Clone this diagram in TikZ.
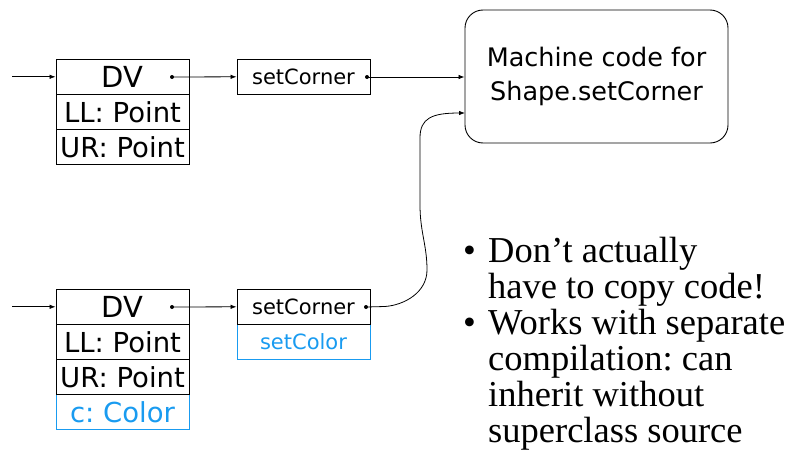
\documentclass[tikz,border=0pt]{standalone}
\usepackage{fontspec}
\setmainfont{DejaVu Sans}
\newfontfamily\bodyserif{Liberation Serif}
\usetikzlibrary{arrows.meta}
\definecolor{hlblue}{RGB}{25,155,240}
\frenchspacing
\begin{document}
\begin{tikzpicture}[x=1pt,y=1pt,
  cell/.style={draw=black, line width=0.9pt, minimum width=133pt, minimum height=35pt,
    inner sep=0pt, font=\fontsize{27.5}{30}\selectfont},
  headcell/.style={cell, font=\fontsize{29}{32}\selectfont},
  bluecell/.style={cell, draw=hlblue, text=hlblue},
  mcell/.style={draw=black, line width=0.9pt, minimum width=133pt, minimum height=35pt,
    inner sep=0pt, font=\fontsize{21}{24}\selectfont},
  bluemcell/.style={mcell, draw=hlblue, text=hlblue},
  dotnode/.style={circle, fill=black, inner sep=0pt, minimum size=4pt},
  arr/.style={draw=black, line width=0.8pt, -{Latex[length=6pt,width=4.5pt]}},
  codebox/.style={draw=black, line width=0.9pt, rounded corners=18pt, minimum width=263pt,
    minimum height=133pt, align=center, font=\fontsize{25.5}{34}\selectfont},
  bul/.style={anchor=base west, inner sep=0pt, font=\bodyserif\fontsize{36.5}{36}\selectfont}
]
\useasboundingbox (0,0) rectangle (802,-452);

% top object
\node[headcell] (dv1) at (122.5,-76.8) {DV};
\node[cell] (ll1) at (122.5,-112.1) {LL: Point};
\node[cell] (ur1) at (122.5,-147.4) {UR: Point};
\node[dotnode] (d1) at (172,-77) {};
\node[mcell] (s1) at (303.5,-76.8) {setCorner};
\node[dotnode] (d2) at (367,-77) {};
\coordinate (in1) at (12,-76.8);

% bottom object
\node[bluecell] (c2) at (122.5,-411.8) {c: Color};
\node[headcell] (dv2) at (122.5,-306.8) {DV};
\node[cell] (ll2) at (122.5,-341.8) {LL: Point};
\node[cell] (ur2) at (122.5,-376.8) {UR: Point};
\node[dotnode] (d3) at (172,-307) {};
\node[bluemcell] (c3) at (303.5,-341.8) {setColor};
\node[mcell] (s2) at (303.5,-306.8) {setCorner};
\node[dotnode] (d4) at (366,-307) {};
\coordinate (in2) at (12,-306.8);

% machine code
\node[codebox] (m) at (596.5,-76.5) {Machine code for\\Shape.setCorner};
\coordinate (mIn) at (465,-113);

% connectors
\draw[arr] (in1) -- (dv1.west);
\draw[arr] (d1.center) -- (s1.west);
\draw[arr] (d2.center) -- (m.west |- d2);
\draw[arr] (in2) -- (dv2.west);
\draw[arr] (d3.center) -- (s2.west);
\draw[arr] (d4.center) -- (385,-306.5)
  .. controls (405,-305) and (427,-292) .. (427,-270)
  .. controls (427,-245) and (420,-232) .. (420,-205)
  -- (420,-138)
  .. controls (420,-118) and (432,-113) .. (mIn);

% bullets
\node[bul] (b1) at (463,-262) {•};
\node[bul] (t1) at (488,-262) {Don’t actually};
\node[bul] (t2) at (488,-298) {have to copy code!};
\node[bul] (b2) at (463,-334) {•};
\node[bul] (t3) at (488,-334) {Works with separate};
\node[bul] (t4) at (488,-370) {compilation: can};
\node[bul] (t5) at (488,-406) {inherit without};
\node[bul] (t6) at (488,-442) {superclass source};
\end{tikzpicture}
\end{document}
